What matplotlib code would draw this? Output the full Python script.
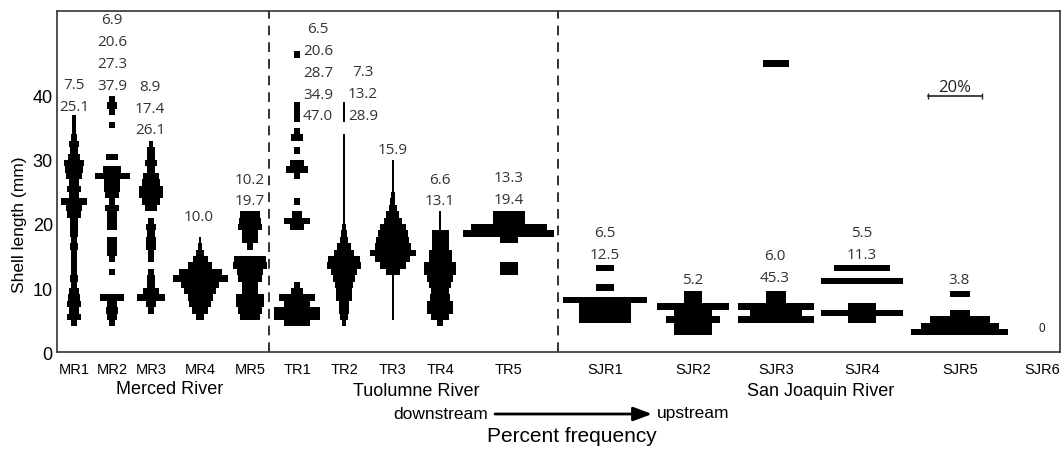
import matplotlib.pyplot as plt
import numpy as np

plt.rcParams['font.family'] = ['Liberation Sans', 'DejaVu Sans']
plt.rcParams['lines.scale_dashes'] = False

# sampling sites, downstream -> upstream
sites = ['MR1', 'MR2', 'MR3', 'MR4', 'MR5',
         'TR1', 'TR2', 'TR3', 'TR4', 'TR5',
         'SJR1', 'SJR2', 'SJR3', 'SJR4', 'SJR5', 'SJR6']
# horizontal centre of each site (x axis is in percent-frequency units)
site_x = [6.3, 20.4, 34.8, 53.0, 71.5,
          88.9, 106.3, 124.4, 141.9, 167.4,
          203.0, 235.6, 266.3, 298.1, 334.4, 364.8]

# lower edge (mm) of the first 1-mm length class, then % frequency per class going up
mr1_base = 4
mr1_pct = [1.9, 4.9, 3.7, 4.9, 4.3, 3.7, 2.5, 3.1, 2.5, 1.9, 1.9, 1.9, 3.1, 2.5, 3.1, 3.1,
           3.1, 4.9, 6.2, 9.9, 3.7, 4.9, 3.7, 5.6, 6.8, 7.4, 4.3, 2.7, 3.5, 2.2, 1.5, 1.2, 1.5]
mr2_base = 4
mr2_pct = [2.2, 3.7, 4.3, 3.7, 8.6, 0, 0, 0, 2.2, 0, 2.2, 3.7, 3.7, 3.7, 0, 3.7, 3.7, 3.7,
           4.9, 2.5, 4.9, 6.2, 6.2, 13.0, 6.8, 0, 4.3, 0, 0, 0, 0, 2.2, 0, 2.2, 3.7, 2.2]
mr3_base = 6
mr3_pct = [2.2, 3.7, 10.5, 5.6, 2.8, 2.8, 2.5, 0, 1.9, 2.5, 3.7, 3.7, 3.1, 3.7, 2.5, 0,
           4.3, 6.8, 8.6, 8.6, 6.8, 5.6, 3.1, 4.3, 3.1, 3.1, 1.8]
mr4_base = 5
mr4_pct = [3.1, 6.2, 8.0, 9.3, 11.7, 14.2, 20.4, 16.0, 8.6, 5.6, 3.1, 1.5, 1.0]
mr5_base = 5
mr5_pct = [7.7, 8.6, 10.1, 10.1, 6.2, 5.6, 8.6, 9.9, 12.3, 12.0, 0, 2.2, 5.6, 6.2, 8.6, 8.0, 7.2]

tr1_base = 4
tr1_pct = [9.3, 17.3, 17.3, 9.9, 13.6, 4.3, 2.5, 0, 0, 0, 0, 0, 0, 0, 0, 4.9, 9.9, 3.5, 0,
           2.2, 0, 0, 0, 2.5, 8.0, 4.9, 0, 2.5, 0, 4.3, 2.5, 0, 2.2, 2.2, 2.2,
           0, 0, 0, 0, 0, 0, 0, 2.5]
tr2_base = 4
tr2_pct = [1.5, 3.1, 3.5, 3.7, 5.6, 5.6, 6.8, 8.0, 9.9, 12.3, 12.0, 7.4, 4.9, 3.1, 1.9, 1.2,
           0.9, 0.7, 0.7, 0.7, 0.7, 0.7, 0.7, 0.7, 0.7, 0.7, 0.7, 0.7, 0.7, 0.7,
           0, 0, 0.6, 0.6, 0.6]
tr3_base = 5
tr3_pct = [0.7, 0.7, 0.7, 0.7, 0.7, 0.7, 1.0, 5.0, 9.9, 13.0, 17.3, 13.6, 12.3, 11.0, 9.9,
           6.8, 4.9, 3.1, 1.9, 1.2, 0.7, 0.7, 0.7, 0.7, 0.7]
tr4_base = 4
tr4_pct = [2.1, 6.8, 9.9, 9.9, 7.4, 6.8, 8.0, 9.6, 12.0, 12.0, 8.6, 8.6, 6.2, 6.2, 6.2,
           0.8, 0.8, 0.8]
tr5_base = 12
tr5_pct = [6.4, 6.4, 0, 0, 0, 6.8, 33.7, 28.0, 11.7, 11.7]

sjr1_base = 4.6
sjr1_pct = [19.0, 19.0, 19.0, 31.0, 0, 6.8, 0, 0, 6.8]
sjr2_base = 2.6
sjr2_pct = [13.8, 13.8, 20.0, 13.8, 26.8, 6.8, 6.8]
sjr3_base = 4.6
sjr3_pct = [28.0, 18.9, 28.0, 7.4, 7.4] + [0] * 35 + [9.4]
sjr4_base = 4.6
sjr4_pct = [10.6, 30.4, 10.6, 0, 0, 0, 30.4, 0, 20.5]
sjr5_base = 2.6
sjr5_pct = [36.0, 29.0, 22.0, 7.4, 0, 0, 7.4]
sjr6_base = 0
sjr6_pct = []

bases = [mr1_base, mr2_base, mr3_base, mr4_base, mr5_base,
         tr1_base, tr2_base, tr3_base, tr4_base, tr5_base,
         sjr1_base, sjr2_base, sjr3_base, sjr4_base, sjr5_base, sjr6_base]
pcts = [mr1_pct, mr2_pct, mr3_pct, mr4_pct, mr5_pct,
        tr1_pct, tr2_pct, tr3_pct, tr4_pct, tr5_pct,
        sjr1_pct, sjr2_pct, sjr3_pct, sjr4_pct, sjr5_pct, sjr6_pct]

# numbers printed above each site (top to bottom)
notes = [["7.5", "25.1"], ["6.9", "20.6", "27.3", "37.9"], ["8.9", "17.4", "26.1"],
         ["10.0"], ["10.2", "19.7"],
         ["6.5", "20.6", "28.7", "34.9", "47.0"], ["7.3", "13.2", "28.9"], ["15.9"],
         ["6.6", "13.1"], ["13.3", "19.4"],
         ["6.5", "12.5"], ["5.2"], ["6.0", "45.3"], ["5.5", "11.3"], ["3.8"]]
note_x = [6.3, 20.4, 34.4, 52.6, 71.5, 96.7, 113.3, 124.4, 141.9, 167.4,
          203.0, 235.6, 265.9, 298.1, 334.1]
note_y = [38.4, 41.7, 34.7, 21.1, 23.6, 36.9, 37.0, 31.7, 23.6, 23.9,
          15.2, 11.25, 11.7, 15.2, 11.25]

W, H = 1064, 452
fig = plt.figure(figsize=(W / 100, H / 100), dpi=100)
ax = fig.add_axes([57 / W, 1 - 353 / H, 1003 / W, 341 / H])
ax.set_xlim(0, 1003 / 2.7)
ax.set_ylim(0, 341 / 6.4)

for x0, base, pct in zip(site_x, bases, pcts):
    if len(pct) == 0:
        continue
    p = np.asarray(pct, float)
    y = base + np.arange(len(p) + 1)
    half = np.append(p, p[-1]) / 2
    ax.fill_betweenx(y, x0 - half, x0 + half, step='post', color='black', linewidth=0)

for x, y0, lines in zip(note_x, note_y, notes):
    for i, s in enumerate(lines[::-1]):
        ax.text(x, y0 + 3.4 * i, s, ha='center', va='center', fontsize=11,
                family='Open Sans', color='#333333')
ax.text(site_x[15], 3.75, '0', ha='center', va='center', fontsize=8.5, color='#222222')

# river dividers
for xd in [78.5, 185.6]:
    ax.axvline(xd, color='#222222', lw=1.3, dashes=(7, 5))

# 20 % scale bar
ax.plot([322.6, 342.6], [40, 40], color='#222222', lw=1.2, marker='|', markersize=5)
ax.text(332.6, 40.1, '20%', ha='center', va='bottom', fontsize=12,
        family='Open Sans', color='#222222')

for sp in ax.spines.values():
    sp.set_linewidth(1.2)
    sp.set_color('#333333')

ax.set_yticks([0, 10, 20, 30, 40])
ax.tick_params(axis='y', length=0, pad=3, labelsize=13)
ax.set_xticks(site_x, sites)
ax.tick_params(axis='x', length=0, pad=7, labelsize=10.5)

fig.text(20 / W, 1 - 225 / H, 'Shell length (mm)', rotation=90, ha='center',
         va='center', fontsize=12.5)
fig.text(170 / W, 1 - 390 / H, 'Merced River', ha='center', va='center', fontsize=13)
fig.text(416 / W, 1 - 392 / H, 'Tuolumne River', ha='center', va='center', fontsize=13)
fig.text(821 / W, 1 - 392 / H, 'San Joaquin River', ha='center', va='center', fontsize=13)
fig.text(488 / W, 1 - 415 / H, 'downstream', ha='right', va='center', fontsize=12.5)
fig.text(657 / W, 1 - 414 / H, 'upstream', ha='left', va='center', fontsize=12.5)
ax.annotate('', xy=(652 / W, 1 - 415 / H), xytext=(495 / W, 1 - 415 / H),
            xycoords='figure fraction', textcoords='figure fraction',
            arrowprops=dict(arrowstyle='-|>,head_length=0.8,head_width=0.3',
                            lw=2.0, color='black', shrinkA=0, shrinkB=0,
                            mutation_scale=14))
fig.text(572 / W, 1 - 437 / H, 'Percent frequency', ha='center', va='center', fontsize=15)

fig.savefig('out.png', dpi=100)
